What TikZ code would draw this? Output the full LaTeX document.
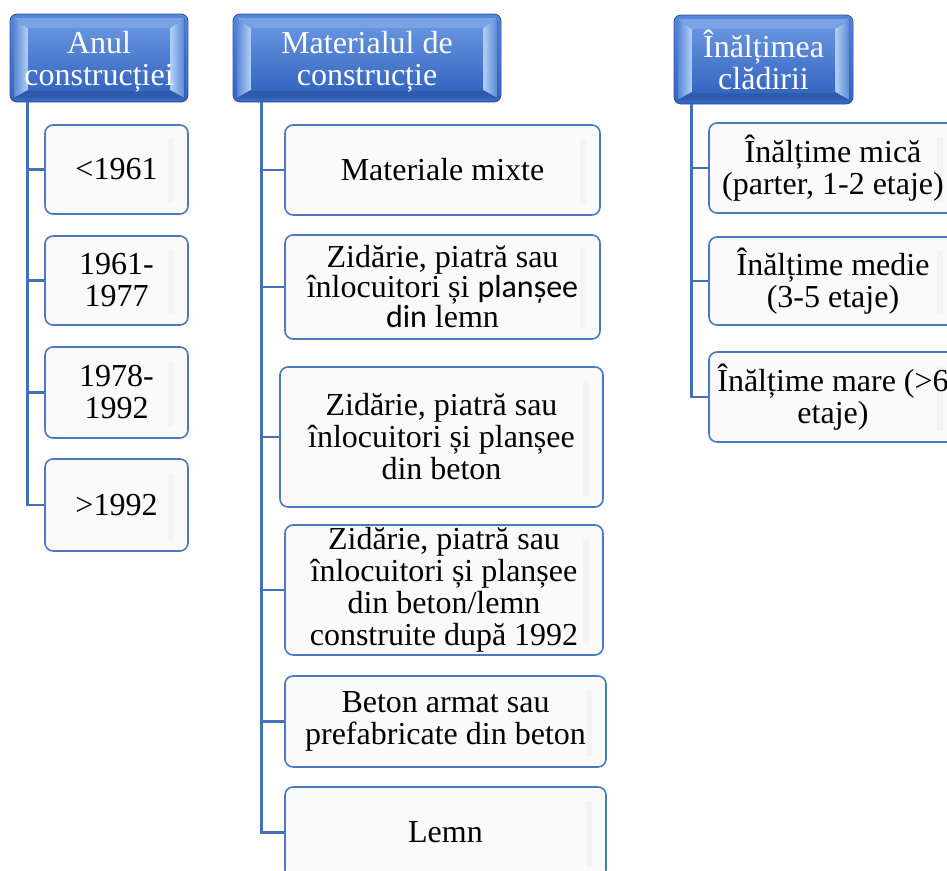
\documentclass[tikz,border=0pt]{standalone}
\usepackage{fontspec}
\setmainfont{Liberation Serif}
\newfontfamily\calib{Carlito}
\usetikzlibrary{calc}
\definecolor{lineblue}{HTML}{4470B8}
\definecolor{boxborder}{HTML}{4A78C2}
\definecolor{hdrborder}{HTML}{2F5597}
\definecolor{hdrtop}{HTML}{5587DC}
\definecolor{hdrbot}{HTML}{3566C0}
\definecolor{bevlight}{HTML}{B5D2F6}
\definecolor{bevmid}{HTML}{5A89D8}
\definecolor{bevtop}{HTML}{7AA3E6}
\definecolor{bevbot}{HTML}{2E5BAE}
\newcommand{\hdrtext}[1]{\raisebox{0pt}[\dimexpr\height+11pt\relax][\depth]{\begin{tabular}{@{}c@{}}#1\end{tabular}}}
\tikzset{
  txt/.style={font=\fontsize{32}{32}\selectfont, align=center, inner sep=0pt},
  hdr/.style={txt, text=white, rounded corners=7pt, draw=hdrborder, line width=0.8pt,
    path picture={
      \fill[top color=hdrtop, bottom color=hdrbot, sharp corners]
        (path picture bounding box.south west) rectangle (path picture bounding box.north east);
      \fill[left color=bevmid, right color=bevlight, sharp corners]
        ([shift={(4pt,4pt)}]path picture bounding box.south west) --
        ([shift={(4pt,-4pt)}]path picture bounding box.north west) --
        ([shift={(18pt,-14pt)}]path picture bounding box.north west) --
        ([shift={(18pt,12pt)}]path picture bounding box.south west) -- cycle;
      \fill[left color=bevlight, right color=bevmid, sharp corners]
        ([shift={(-4pt,4pt)}]path picture bounding box.south east) --
        ([shift={(-4pt,-4pt)}]path picture bounding box.north east) --
        ([shift={(-18pt,-14pt)}]path picture bounding box.north east) --
        ([shift={(-18pt,12pt)}]path picture bounding box.south east) -- cycle;
      \fill[bevtop, sharp corners]
        ([shift={(4pt,-4pt)}]path picture bounding box.north west) --
        ([shift={(-4pt,-4pt)}]path picture bounding box.north east) --
        ([shift={(-18pt,-14pt)}]path picture bounding box.north east) --
        ([shift={(18pt,-14pt)}]path picture bounding box.north west) -- cycle;
      \fill[bevbot, sharp corners]
        ([shift={(4pt,4pt)}]path picture bounding box.south west) --
        ([shift={(-4pt,4pt)}]path picture bounding box.south east) --
        ([shift={(-18pt,12pt)}]path picture bounding box.south east) --
        ([shift={(18pt,12pt)}]path picture bounding box.south west) -- cycle;
      \fill[top color=hdrtop!90!white, bottom color=hdrbot, sharp corners]
        ([shift={(18pt,12pt)}]path picture bounding box.south west) rectangle
        ([shift={(-18pt,-14pt)}]path picture bounding box.north east);
    }},
  child/.style={txt, rounded corners=8pt, draw=boxborder, line width=1.6pt, fill=white!98!black,
    path picture={
      \fill[left color=white, right color=black!5, sharp corners]
        ([shift={(-20pt,-14pt)}]path picture bounding box.north east) rectangle
        ([shift={(-14pt,12pt)}]path picture bounding box.south east);
    }},
  conn/.style={draw=lineblue, line width=2.7pt}
}
\begin{document}
\begin{tikzpicture}[x=1pt,y=-1pt]
\useasboundingbox (0,0) rectangle (947,870);
\clip (0,0) rectangle (947,870);

% headers
\node[hdr, minimum width=178pt, minimum height=88pt] (h1) at (99,58) {\hdrtext{Anul\\construcției}};
\node[hdr, minimum width=268pt, minimum height=88pt] (h2) at (367,58) {\hdrtext{Materialul de\\construcție}};
\node[hdr, minimum width=179pt, minimum height=89pt] (h3) at (763.5,59.5) {Înălțimea\\clădirii};

% column 1
\node[child, minimum width=143pt, minimum height=89pt] (c1) at (116.5,169.5) {<1961};
\node[child, minimum width=143pt, minimum height=89pt] (c2) at (116.5,280.5) {1961-\\1977};
\node[child, minimum width=143pt, minimum height=91pt] (c3) at (116.5,392.5) {1978-\\1992};
\node[child, minimum width=143pt, minimum height=92pt] (c4) at (116.5,505) {>1992};

% column 2
\node[child, minimum width=315pt, minimum height=90pt] (m1) at (442.5,170) {Materiale mixte};
\node[child, minimum width=315pt, minimum height=104pt, font=\fontsize{32}{30}\selectfont] (m2) at (442.5,287) {Zidărie, piatră sau\\înlocuitori și {\calib planșee}\\{\calib din} lemn};
\node[child, minimum width=323pt, minimum height=140pt] (m3) at (441.5,437) {Zidărie, piatră sau\\înlocuitori și planșee\\din beton};
\node[child, minimum width=318pt, minimum height=130pt] (m4) at (444,590) {Zidărie, piatră sau\\înlocuitori și planșee\\din beton/lemn\\construite după 1992};
\node[child, minimum width=321pt, minimum height=91pt] (m5) at (445.5,721.5) {Beton armat sau\\prefabricate din beton};
\node[child, minimum width=321pt, minimum height=91pt] (m6) at (445.5,832.5) {Lemn};

% column 3
\node[child, minimum width=248pt, minimum height=90pt] (k1) at (833,168) {Înălțime mică\\(parter, 1-2 etaje)};
\node[child, minimum width=248pt, minimum height=88pt] (k2) at (833,281) {Înălțime medie\\(3-5 etaje)};
\node[child, minimum width=248pt, minimum height=90pt] (k3) at (833,397) {Înălțime mare (>6\\etaje)};

% connectors
\foreach \c in {c1,c2,c3,c4} \draw[conn] ([xshift=18pt]h1.south west) |- (\c.west);
\foreach \c in {m1,m2,m3,m4,m5,m6} \draw[conn] ([xshift=29pt]h2.south west) |- (\c.west);
\foreach \c in {k1,k2,k3} \draw[conn] ([xshift=18pt]h3.south west) |- (\c.west);
\end{tikzpicture}
\end{document}
